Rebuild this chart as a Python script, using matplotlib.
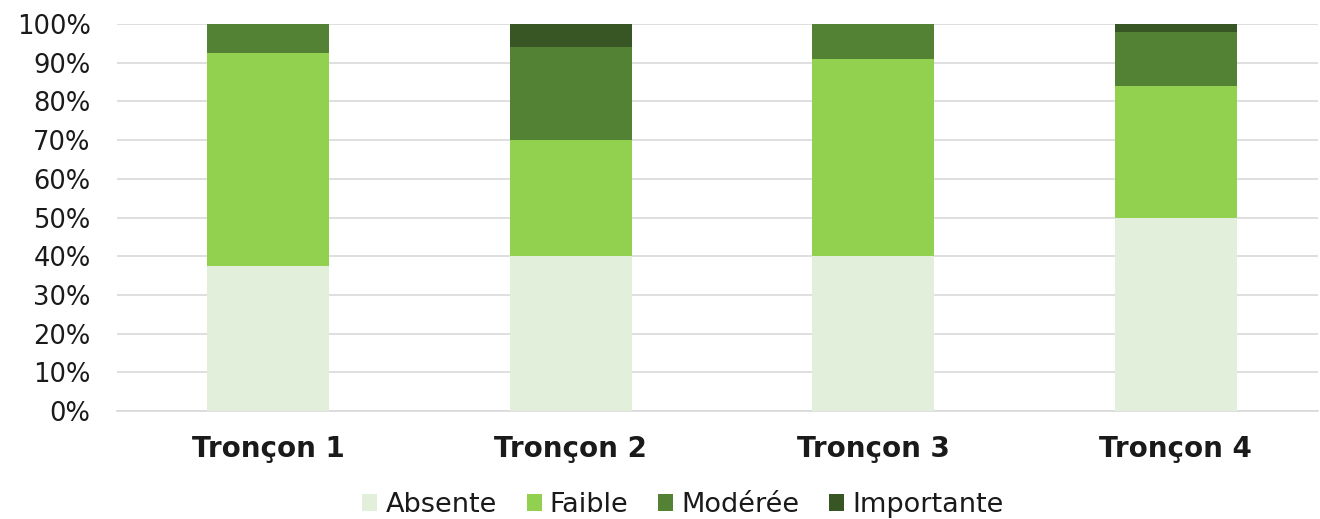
import matplotlib.pyplot as plt
import numpy as np

categories = ["Tronçon 1", "Tronçon 2", "Tronçon 3", "Tronçon 4"]
series_names = ["Absente", "Faible", "Modérée", "Importante"]
absente = [37.5, 40, 40, 50]
faible = [55, 30, 51, 34]
moderee = [7.5, 24, 9, 14]
importante = [0, 6, 0, 2]
colors = ["#E2EFDA", "#92D050", "#548235", "#375623"]

W, H = 1320, 519
fig = plt.figure(figsize=(W / 100, H / 100), dpi=100)
ax = fig.add_axes([117 / W, 1 - 411 / H, (1318 - 117) / W, (411 - 24) / H])

x = np.arange(len(categories))
bottom = np.zeros(len(categories))
for name, vals, c in zip(series_names, [absente, faible, moderee, importante], colors):
    ax.bar(x, vals, 0.403, bottom=bottom, color=c, label=name, zorder=3)
    bottom += np.array(vals)

ax.set_ylim(0, 100)
ax.set_xlim(-0.5, 3.47)
ax.set_yticks(range(0, 101, 10))
ax.set_yticklabels([f"{v}%" for v in range(0, 101, 10)], fontsize=18.5, color="#1a1a1a")
ax.set_xticks(x)
ax.set_xticklabels(categories, fontsize=20, fontweight="bold", color="#1a1a1a")
ax.tick_params(length=0)
ax.tick_params(axis="x", pad=17)
ax.tick_params(axis="y", pad=19)
ax.grid(axis="y", color="#D9D9D9", linewidth=1.2, zorder=0)
for s in ["top", "right", "left"]:
    ax.spines[s].set_visible(False)
ax.spines["bottom"].set_color("#D9D9D9")
ax.spines["bottom"].set_linewidth(1.2)

fig.legend(loc="center", bbox_to_anchor=(683 / W, 1 - 505 / H), ncol=4, frameon=False,
           fontsize=19.5, handlelength=0.55, handleheight=0.55, handletextpad=0.3,
           columnspacing=1.1, labelcolor="#1a1a1a", borderpad=0)

fig.savefig("out.png", dpi=100)
